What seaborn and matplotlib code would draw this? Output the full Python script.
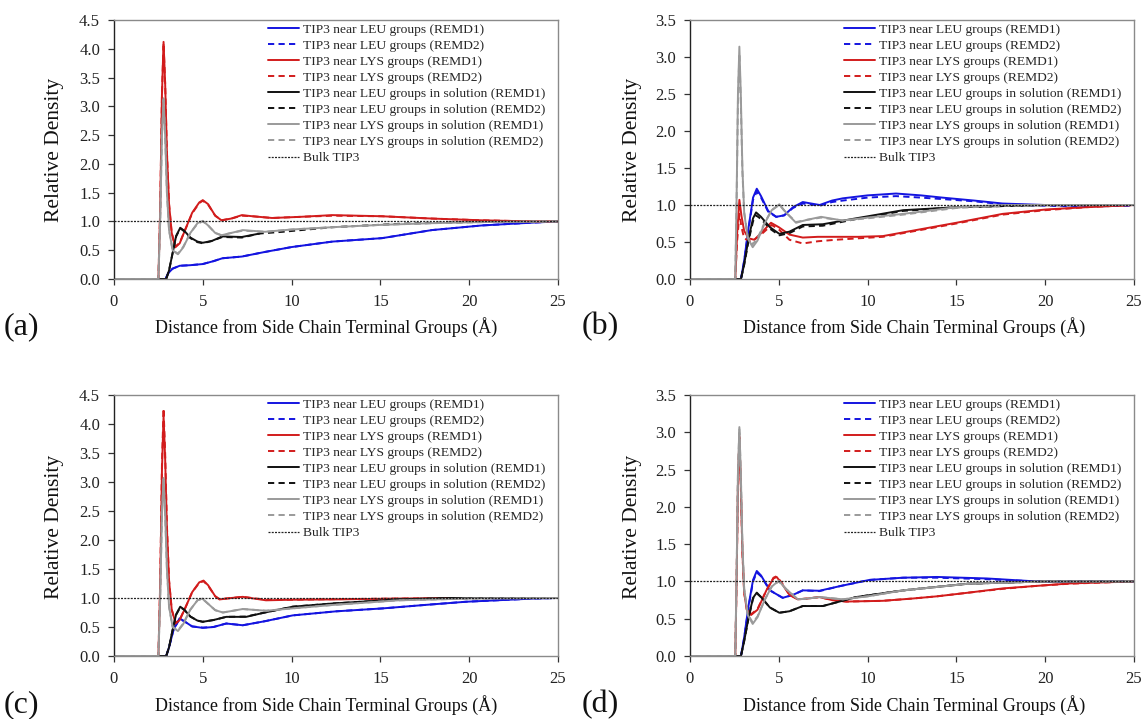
import matplotlib
matplotlib.use("Agg")
import matplotlib.pyplot as plt
import seaborn as sns
from matplotlib.ticker import FormatStrFormatter, MultipleLocator

sns.set_style("ticks")
plt.rcParams["font.family"] = ["Liberation Serif", "DejaVu Serif"]

# ---------------------------------------------------------------
# Relative water density profiles, (distance in Å, density) pairs
# ---------------------------------------------------------------

# Panel (a)
a_leu_r1 = [(0, 0), (2.9, 0), (3.05, 0.1), (3.3, 0.18), (3.7, 0.23), (4.3, 0.24), (5.0, 0.26),
            (5.6, 0.31), (6.1, 0.36), (7.2, 0.39), (8.5, 0.47), (10, 0.555), (12.3, 0.65),
            (15.1, 0.71), (16.5, 0.78), (17.9, 0.85), (20.7, 0.93), (23.6, 0.98), (25, 1.0)]
a_leu_r2 = [(0, 0), (2.9, 0), (3.05, 0.1), (3.3, 0.18), (3.7, 0.23), (4.3, 0.24), (5.0, 0.26),
            (5.6, 0.31), (6.1, 0.36), (7.2, 0.39), (8.5, 0.47), (10, 0.555), (12.3, 0.65),
            (15.1, 0.71), (16.5, 0.78), (17.9, 0.85), (20.7, 0.93), (23.6, 0.98), (25, 1.0)]
a_lys_r1 = [(0, 0), (2.5, 0), (2.6, 1.2), (2.7, 3.2), (2.79, 4.12), (2.88, 3.4), (2.98, 2.2),
            (3.1, 1.3), (3.25, 0.8), (3.45, 0.55), (3.7, 0.62), (4.0, 0.85), (4.4, 1.15),
            (4.8, 1.33), (5.0, 1.37), (5.3, 1.3), (5.7, 1.1), (6.05, 1.02), (6.6, 1.05),
            (7.2, 1.11), (7.8, 1.09), (8.9, 1.06), (10.5, 1.08), (12.3, 1.11), (15.1, 1.09),
            (17.9, 1.05), (20.7, 1.02), (23.6, 1.0), (25, 1.0)]
a_lys_r2 = [(0, 0), (2.5, 0), (2.6, 1.2), (2.7, 3.2), (2.79, 4.1), (2.88, 3.4), (2.98, 2.2),
            (3.1, 1.3), (3.25, 0.8), (3.45, 0.56), (3.7, 0.63), (4.0, 0.85), (4.4, 1.14),
            (4.8, 1.32), (5.0, 1.36), (5.3, 1.29), (5.7, 1.1), (6.05, 1.02), (6.6, 1.05),
            (7.2, 1.1), (7.8, 1.09), (8.9, 1.06), (10.5, 1.08), (12.3, 1.1), (15.1, 1.09),
            (17.9, 1.05), (20.7, 1.02), (23.6, 1.0), (25, 1.0)]
a_leusol_r1 = [(0, 0), (2.94, 0), (3.1, 0.15), (3.3, 0.45), (3.5, 0.75), (3.73, 0.89), (3.95, 0.84),
               (4.3, 0.72), (4.7, 0.65), (5.0, 0.63), (5.5, 0.66), (6.1, 0.74), (7.2, 0.73),
               (8.2, 0.79)]
a_leusol_r2 = [(0, 0), (2.94, 0), (3.1, 0.15), (3.3, 0.45), (3.5, 0.74), (3.73, 0.88), (3.95, 0.83),
               (4.3, 0.71), (4.7, 0.64), (5.0, 0.62), (5.5, 0.66), (6.1, 0.73), (7.2, 0.72),
               (8.2, 0.79), (9.5, 0.82), (12.3, 0.9), (16.1, 0.96), (20, 0.99), (25, 1.0)]
a_lyssol_r1 = [(0, 0), (2.5, 0), (2.6, 1.0), (2.7, 2.5), (2.79, 3.14), (2.88, 2.5), (2.98, 1.5),
               (3.1, 0.85), (3.3, 0.5), (3.6, 0.43), (3.9, 0.55), (4.3, 0.8), (4.7, 0.97),
               (5.0, 1.01), (5.3, 0.93), (5.7, 0.8), (6.05, 0.76), (6.6, 0.8), (7.25, 0.85),
               (8.5, 0.82), (10, 0.86), (12.3, 0.9), (15, 0.94), (17.9, 0.97), (21, 0.99), (25, 1.0)]
a_lyssol_r2 = [(0, 0), (2.5, 0), (2.6, 1.0), (2.7, 2.5), (2.79, 3.12), (2.88, 2.5), (2.98, 1.5),
               (3.1, 0.85), (3.3, 0.5), (3.6, 0.44), (3.9, 0.56), (4.3, 0.8), (4.7, 0.96),
               (5.0, 1.0), (5.3, 0.93), (5.7, 0.8), (6.05, 0.76), (6.6, 0.8), (7.25, 0.84),
               (8.5, 0.82), (10, 0.86), (12.3, 0.9), (15, 0.94), (17.9, 0.97), (21, 0.99), (25, 1.0)]

# Panel (b)
b_leu_r1 = [(0, 0), (2.87, 0), (3.05, 0.25), (3.3, 0.7), (3.55, 1.1), (3.76, 1.22), (4.0, 1.12),
            (4.4, 0.92), (4.85, 0.84), (5.3, 0.86), (5.8, 0.97), (6.35, 1.04), (7.3, 1.0),
            (8.0, 1.06), (8.6, 1.09), (10, 1.13), (11.6, 1.155), (13, 1.13), (14.2, 1.1),
            (16, 1.06), (17.6, 1.02), (20, 1.0), (22, 0.99), (25, 1.0)]
b_leu_r2 = [(0, 0), (2.87, 0), (3.05, 0.24), (3.3, 0.68), (3.55, 1.07), (3.76, 1.18), (4.0, 1.1),
            (4.4, 0.91), (4.85, 0.84), (5.3, 0.86), (5.8, 0.96), (6.35, 1.02), (7.3, 0.99),
            (8.0, 1.04), (8.6, 1.06), (10, 1.1), (11.6, 1.12), (13, 1.1), (14.2, 1.08),
            (16, 1.05), (17.6, 1.01), (20, 0.99), (22, 0.98), (25, 0.99)]
b_lys_r1 = [(0, 0), (2.55, 0), (2.65, 0.6), (2.78, 1.07), (2.9, 0.85), (3.05, 0.65), (3.3, 0.55),
            (3.62, 0.53), (4.0, 0.62), (4.56, 0.76), (5.0, 0.7), (5.6, 0.6), (6.35, 0.56),
            (7.2, 0.57), (8.2, 0.57), (9.5, 0.57), (10.86, 0.58), (12.7, 0.66), (15, 0.76),
            (17.6, 0.88), (20.06, 0.94), (22.3, 0.97), (25, 1.0)]
b_lys_r2 = [(0, 0), (2.55, 0), (2.65, 0.5), (2.78, 0.88), (2.9, 0.7), (3.05, 0.55), (3.45, 0.5),
            (4.0, 0.6), (4.6, 0.73), (5.0, 0.67), (5.6, 0.53), (6.35, 0.48), (7.2, 0.51),
            (8.2, 0.53), (9.5, 0.55), (10.86, 0.57), (12.7, 0.65), (15, 0.75), (17.6, 0.87),
            (20, 0.93), (22.3, 0.97), (25, 1.0)]
b_leusol_r1 = [(0, 0), (2.87, 0), (3.05, 0.2), (3.3, 0.55), (3.55, 0.82), (3.72, 0.9), (4.0, 0.84),
               (4.5, 0.7), (5.03, 0.61), (5.6, 0.64), (6.35, 0.73), (7.48, 0.74), (9.35, 0.82),
               (12, 0.93), (15, 0.97), (20, 1.0), (25, 1.0)]
b_leusol_r2 = [(0, 0), (2.87, 0), (3.05, 0.19), (3.3, 0.52), (3.55, 0.78), (3.72, 0.86), (4.0, 0.81),
               (4.5, 0.68), (5.03, 0.59), (5.6, 0.62), (6.35, 0.71), (7.48, 0.72), (9.35, 0.81),
               (12, 0.92), (15, 0.97), (20, 1.0), (25, 1.0)]
b_lyssol_r1 = [(0, 0), (2.55, 0), (2.63, 1.2), (2.7, 2.5), (2.78, 3.14), (2.86, 2.5), (2.95, 1.5),
               (3.05, 0.9), (3.25, 0.55), (3.53, 0.43), (3.8, 0.52), (4.2, 0.75), (4.6, 0.93),
               (5.03, 1.01), (5.4, 0.9), (5.97, 0.76), (6.6, 0.8), (7.38, 0.84), (8.6, 0.79),
               (10, 0.83), (12, 0.88), (15, 0.97), (17.6, 1.0), (25, 1.0)]
b_lyssol_r2 = [(0, 0), (2.55, 0), (2.63, 1.15), (2.7, 2.4), (2.78, 3.05), (2.86, 2.4), (2.95, 1.45),
               (3.05, 0.9), (3.25, 0.57), (3.53, 0.47), (3.8, 0.55), (4.2, 0.76), (4.6, 0.93),
               (5.03, 1.0), (5.4, 0.9), (5.97, 0.77), (6.6, 0.8), (7.38, 0.83), (8.6, 0.79),
               (10, 0.82), (12, 0.87), (15, 0.96), (17.6, 0.99), (25, 1.0)]

# Panel (c)
c_leu_r1 = [(0, 0), (2.94, 0), (3.1, 0.15), (3.35, 0.45), (3.69, 0.65), (3.95, 0.6), (4.4, 0.51),
            (5.0, 0.485), (5.6, 0.5), (6.32, 0.56), (7.25, 0.53), (8.5, 0.6), (10.06, 0.7),
            (12.5, 0.77), (15.1, 0.82), (17.5, 0.88), (19.8, 0.935), (23.6, 0.99), (25, 1.0)]
c_leu_r2 = [(0, 0), (2.94, 0), (3.1, 0.15), (3.35, 0.45), (3.69, 0.64), (3.95, 0.6), (4.4, 0.51),
            (5.0, 0.49), (5.6, 0.5), (6.32, 0.56), (7.25, 0.53), (8.5, 0.6), (10.06, 0.7),
            (12.5, 0.77), (15.1, 0.82), (17.5, 0.88), (19.8, 0.935), (23.6, 0.99), (25, 1.0)]
c_lys_r1 = [(0, 0), (2.5, 0), (2.6, 1.2), (2.7, 3.2), (2.79, 4.14), (2.88, 3.4), (2.98, 2.2),
            (3.1, 1.3), (3.25, 0.8), (3.47, 0.56), (3.7, 0.62), (4.0, 0.82), (4.4, 1.1),
            (4.8, 1.27), (5.04, 1.3), (5.3, 1.22), (5.7, 1.03), (5.94, 0.975), (6.6, 1.0),
            (7.25, 1.02), (8.56, 0.96), (10, 0.97), (12.3, 0.975), (16, 0.99), (20, 1.0), (25, 1.0)]
c_lys_r2 = [(0, 0), (2.5, 0), (2.6, 1.25), (2.7, 3.3), (2.79, 4.27), (2.88, 3.5), (2.98, 2.25),
            (3.1, 1.3), (3.25, 0.8), (3.47, 0.57), (3.7, 0.63), (4.0, 0.82), (4.4, 1.1),
            (4.8, 1.26), (5.04, 1.29), (5.3, 1.21), (5.7, 1.03), (5.94, 0.98), (6.6, 1.0),
            (7.25, 1.02), (8.56, 0.97), (10, 0.97), (12.3, 0.98), (16, 0.99), (20, 1.0), (25, 1.0)]
c_leusol_r1 = [(0, 0), (2.94, 0), (3.1, 0.15), (3.3, 0.45), (3.5, 0.72), (3.73, 0.85), (3.95, 0.8),
               (4.3, 0.68), (4.7, 0.61), (5.0, 0.59), (5.6, 0.62), (6.32, 0.675), (7.44, 0.675),
               (8.5, 0.75), (10.06, 0.85), (12.3, 0.905), (16, 0.975), (19, 1.0), (25, 1.0)]
c_leusol_r2 = [(0, 0), (2.94, 0), (3.1, 0.15), (3.3, 0.45), (3.5, 0.71), (3.73, 0.84), (3.95, 0.8),
               (4.3, 0.68), (4.7, 0.61), (5.0, 0.59), (5.6, 0.62), (6.32, 0.675), (7.44, 0.68),
               (8.5, 0.75), (10.06, 0.85), (12.3, 0.905), (16, 0.975), (19, 1.0), (25, 1.0)]
c_lyssol_r1 = [(0, 0), (2.5, 0), (2.6, 1.0), (2.7, 2.45), (2.79, 3.07), (2.88, 2.45), (2.98, 1.5),
               (3.1, 0.85), (3.3, 0.5), (3.6, 0.43), (3.9, 0.55), (4.3, 0.8), (4.7, 0.96),
               (4.97, 0.99), (5.3, 0.9), (5.7, 0.79), (6.13, 0.75), (6.7, 0.78), (7.25, 0.81),
               (8.56, 0.78), (10, 0.82), (12.3, 0.88), (16, 0.96), (20, 0.99), (25, 1.0)]
c_lyssol_r2 = [(0, 0), (2.5, 0), (2.6, 1.0), (2.7, 2.45), (2.79, 3.05), (2.88, 2.45), (2.98, 1.5),
               (3.1, 0.85), (3.3, 0.5), (3.6, 0.44), (3.9, 0.56), (4.3, 0.8), (4.7, 0.96),
               (4.97, 0.99), (5.3, 0.9), (5.7, 0.79), (6.13, 0.75), (6.7, 0.78), (7.25, 0.81),
               (8.56, 0.78), (10, 0.82), (12.3, 0.88), (16, 0.96), (20, 0.99), (25, 1.0)]

# Panel (d)
d_leu_r1 = [(0, 0), (2.87, 0), (3.05, 0.25), (3.3, 0.68), (3.55, 1.02), (3.76, 1.14), (4.0, 1.08),
            (4.5, 0.88), (5.22, 0.78), (5.8, 0.82), (6.35, 0.88), (7.29, 0.875), (8.5, 0.94),
            (10.1, 1.02), (12, 1.05), (13.9, 1.06), (16.7, 1.04), (19.5, 1.0), (25, 1.0)]
d_leu_r2 = [(0, 0), (2.87, 0), (3.05, 0.24), (3.3, 0.66), (3.55, 1.0), (3.76, 1.12), (4.0, 1.07),
            (4.5, 0.88), (5.22, 0.78), (5.8, 0.82), (6.35, 0.88), (7.29, 0.87), (8.5, 0.94),
            (10.1, 1.02), (12, 1.05), (13.9, 1.05), (16.7, 1.03), (19.5, 1.0), (25, 1.0)]
d_lys_r1 = [(0, 0), (2.55, 0), (2.63, 1.1), (2.7, 2.3), (2.78, 2.95), (2.86, 2.3), (2.95, 1.4),
            (3.05, 0.85), (3.2, 0.62), (3.44, 0.55), (3.8, 0.62), (4.3, 0.88), (4.7, 1.04),
            (4.88, 1.06), (5.2, 0.96), (5.6, 0.82), (6.07, 0.76), (6.6, 0.77), (7.29, 0.79),
            (8.0, 0.75), (8.8, 0.73), (10.86, 0.74), (12.5, 0.77), (13.9, 0.8), (15.7, 0.85),
            (17.6, 0.906), (19.5, 0.94), (21.4, 0.973), (25, 1.0)]
d_lys_r2 = [(0, 0), (2.55, 0), (2.63, 1.1), (2.7, 2.3), (2.78, 2.93), (2.86, 2.3), (2.95, 1.4),
            (3.05, 0.85), (3.2, 0.62), (3.44, 0.56), (3.8, 0.63), (4.3, 0.88), (4.7, 1.05),
            (4.88, 1.07), (5.2, 0.97), (5.6, 0.82), (6.07, 0.76), (6.6, 0.77), (7.29, 0.79),
            (8.0, 0.75), (8.8, 0.73), (10.86, 0.74), (12.5, 0.77), (13.9, 0.8), (15.7, 0.85),
            (17.6, 0.9), (19.5, 0.94), (21.4, 0.97), (25, 1.0)]
d_leusol_r1 = [(0, 0), (2.87, 0), (3.05, 0.2), (3.3, 0.52), (3.55, 0.78), (3.76, 0.85), (4.0, 0.79),
               (4.5, 0.65), (5.03, 0.58), (5.6, 0.6), (6.35, 0.67), (7.48, 0.67), (9.35, 0.79),
               (12, 0.88), (15.7, 0.97), (20, 1.0), (25, 1.0)]
d_leusol_r2 = [(0, 0), (2.87, 0), (3.05, 0.2), (3.3, 0.51), (3.55, 0.77), (3.76, 0.84), (4.0, 0.79),
               (4.5, 0.65), (5.03, 0.58), (5.6, 0.6), (6.35, 0.67), (7.48, 0.67), (9.35, 0.79),
               (12, 0.88), (15.7, 0.97), (20, 1.0), (25, 1.0)]
d_lyssol_r1 = [(0, 0), (2.55, 0), (2.63, 1.2), (2.7, 2.45), (2.78, 3.07), (2.86, 2.45), (2.95, 1.5),
               (3.05, 0.9), (3.25, 0.55), (3.53, 0.43), (3.8, 0.52), (4.2, 0.75), (4.6, 0.93),
               (5.0, 1.01), (5.4, 0.9), (6.07, 0.76), (6.6, 0.77), (7.29, 0.79), (8.6, 0.76),
               (10, 0.8), (12, 0.88), (15.7, 0.97), (20, 1.0), (25, 1.0)]
d_lyssol_r2 = [(0, 0), (2.55, 0), (2.63, 1.2), (2.7, 2.45), (2.78, 3.05), (2.86, 2.45), (2.95, 1.5),
               (3.05, 0.9), (3.25, 0.56), (3.53, 0.45), (3.8, 0.53), (4.2, 0.75), (4.6, 0.93),
               (5.0, 1.0), (5.4, 0.9), (6.07, 0.76), (6.6, 0.77), (7.29, 0.79), (8.6, 0.76),
               (10, 0.8), (12, 0.88), (15.7, 0.97), (20, 1.0), (25, 1.0)]

bulk_density = [(0, 1.0), (25, 1.0)]

series_labels = [
    "TIP3 near LEU groups (REMD1)",
    "TIP3 near LEU groups (REMD2)",
    "TIP3 near LYS groups (REMD1)",
    "TIP3 near LYS groups (REMD2)",
    "TIP3 near LEU groups in solution (REMD1)",
    "TIP3 near LEU groups in solution (REMD2)",
    "TIP3 near LYS groups in solution (REMD1)",
    "TIP3 near LYS groups in solution (REMD2)",
]
bulk_label = "Bulk TIP3"
panel_tags = ["(a)", "(b)", "(c)", "(d)"]
x_title = "Distance from Side Chain Terminal Groups (Å)"
y_title = "Relative Density"
x_ticks = [0, 5, 10, 15, 20, 25]
y_max = [4.5, 3.5, 4.5, 3.5]

panels = [
    [a_leu_r1, a_leu_r2, a_lys_r1, a_lys_r2, a_leusol_r1, a_leusol_r2, a_lyssol_r1, a_lyssol_r2],
    [b_leu_r1, b_leu_r2, b_lys_r1, b_lys_r2, b_leusol_r1, b_leusol_r2, b_lyssol_r1, b_lyssol_r2],
    [c_leu_r1, c_leu_r2, c_lys_r1, c_lys_r2, c_leusol_r1, c_leusol_r2, c_lyssol_r1, c_lyssol_r2],
    [d_leu_r1, d_leu_r2, d_lys_r1, d_lys_r2, d_leusol_r1, d_leusol_r2, d_lyssol_r1, d_lyssol_r2],
]

# ---------------------------------------------------------------
# Styling
# ---------------------------------------------------------------
BLUE = "#1414e0"
RED = "#d21c1c"
BLACK = "#111111"
GRAY = "#9a9a9a"
SOLID = "-"
DASH = (0, (3.2, 2.2))
series_styles = [
    (BLUE, SOLID), (BLUE, DASH),
    (RED, SOLID), (RED, DASH),
    (BLACK, SOLID), (BLACK, DASH),
    (GRAY, SOLID), (GRAY, DASH),
]

W, H = 1143, 719
fig = plt.figure(figsize=(W / 100, H / 100), dpi=100)

# axes boxes in pixels: left, top, right, bottom
boxes = [(114, 20, 558, 279), (690, 20, 1134, 279),
         (114, 395, 558, 656), (690, 395, 1134, 656)]
xlabel_pos = [(326, 327), (914, 327), (326, 705), (914, 705)]
ylabel_pos = [(55, 150), (633, 150), (55, 527), (633, 527)]
tag_pos = [(4, 327), (582, 327), (4, 705), (582, 705)]

for i, (l, t, r, b) in enumerate(boxes):
    ax = fig.add_axes([l / W, 1 - b / H, (r - l) / W, (b - t) / H])
    for pts, label, (col, ls) in zip(panels[i], series_labels, series_styles):
        xs = [p[0] for p in pts]
        ys = [p[1] for p in pts]
        sns.lineplot(x=xs, y=ys, ax=ax, color=col, linestyle=ls, linewidth=1.4,
                     label=label, sort=False, estimator=None)
    sns.lineplot(x=[p[0] for p in bulk_density], y=[p[1] for p in bulk_density], ax=ax,
                 color="#222222", linestyle=(0, (1.6, 1.0)), linewidth=0.9,
                 label=bulk_label, sort=False, estimator=None)

    ax.set_xlim(0, 25)
    ax.set_ylim(0, y_max[i])
    ax.set_xticks(x_ticks)
    ax.yaxis.set_major_locator(MultipleLocator(0.5))
    ax.yaxis.set_major_formatter(FormatStrFormatter("%.1f"))
    ax.set_xlabel("")
    ax.set_ylabel("")
    for side in ["top", "right", "bottom"]:
        ax.spines[side].set_color("#8a8a8a")
        ax.spines[side].set_linewidth(1.0)
    ax.spines["left"].set_color("#222222")
    ax.spines["left"].set_linewidth(1.0)
    ax.tick_params(axis="both", direction="out", length=4, width=0.9, color="#333333",
                   labelsize=12, labelcolor="#222222")
    ax.tick_params(axis="y", pad=6)
    ax.tick_params(axis="x", pad=7)

    ax.legend(loc="upper left", bbox_to_anchor=(0.346, 0.99), frameon=False,
              fontsize=9.7, borderpad=0.05, borderaxespad=0, handlelength=2.3,
              handletextpad=0.25, labelspacing=0.27)

    fig.text(xlabel_pos[i][0] / W, 1 - xlabel_pos[i][1] / H, x_title,
             ha="center", va="center", fontsize=13, color="#111111")
    fig.text(ylabel_pos[i][0] / W, 1 - ylabel_pos[i][1] / H, y_title, rotation=90,
             ha="center", va="center", fontsize=15.5, color="#111111")
    fig.text(tag_pos[i][0] / W, 1 - tag_pos[i][1] / H, panel_tags[i],
             ha="left", va="center", fontsize=23, color="#111111")

fig.savefig("out.png", dpi=100)
